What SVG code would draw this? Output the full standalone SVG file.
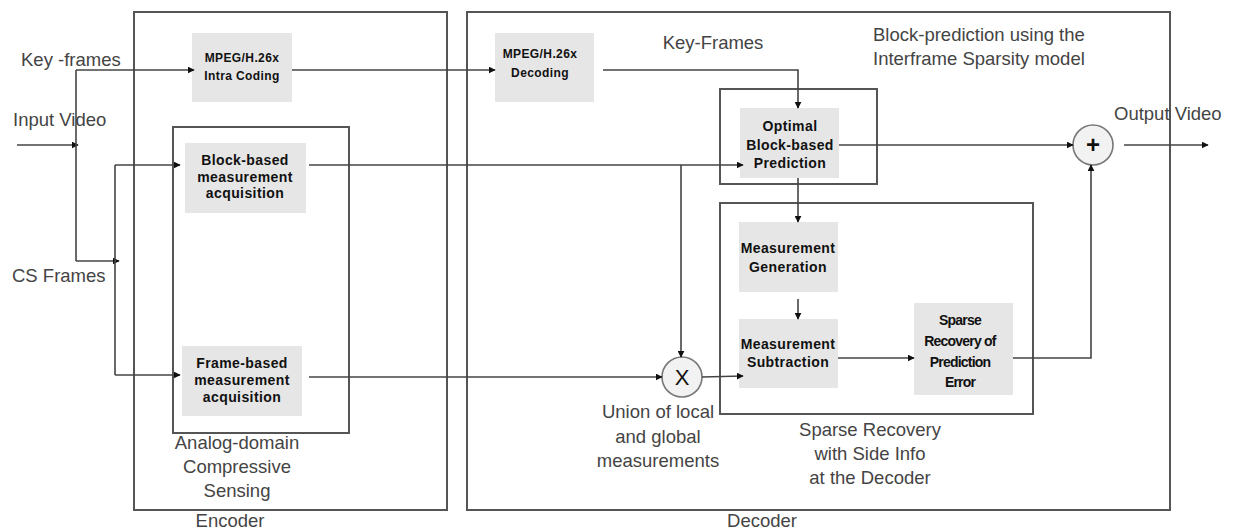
<svg xmlns="http://www.w3.org/2000/svg" width="1235" height="529" viewBox="0 0 1235 529">
<defs>
<marker id="ah" viewBox="0 0 10 10" refX="9" refY="5" markerWidth="7" markerHeight="7" markerUnits="userSpaceOnUse" orient="auto"><path d="M0,0 L10,5 L0,10 z" fill="#111"/></marker>
<style>
.frame{fill:none;stroke:#555;stroke-width:2}
.box{fill:#e6e6e6;stroke:none}
.bl{font-family:"Liberation Sans",Arial,sans-serif;font-weight:bold;font-size:14px;fill:#111;text-anchor:middle;letter-spacing:0.4px}
.bl2{font-family:"Liberation Sans",Arial,sans-serif;font-weight:bold;font-size:14px;fill:#111;text-anchor:middle;letter-spacing:-0.8px}
.lab{font-family:"Liberation Sans",Arial,sans-serif;font-size:18.5px;fill:#444}
.mid{text-anchor:middle}
.c{fill:none;stroke:#444;stroke-width:1.6}
.ca{fill:none;stroke:#444;stroke-width:1.6;marker-end:url(#ah)}
.circ{fill:#f2f2f2;stroke:#777;stroke-width:1.6}
</style>
</defs>
<rect width="1235" height="529" fill="#fff"/>
<g id="encoder">
<rect class="frame" x="134" y="12" width="313" height="498"/>
<text class="lab mid" x="230" y="527">Encoder</text>
</g>
<g id="analog-cs">
<rect class="frame" x="173" y="127" width="176" height="306"/>
<text class="lab mid" x="237" y="449">Analog-domain</text>
<text class="lab mid" x="237" y="473">Compressive</text>
<text class="lab mid" x="237" y="497">Sensing</text>
</g>
<g id="decoder">
<rect class="frame" x="467" y="12" width="703" height="498"/>
<text class="lab mid" x="762" y="527">Decoder</text>
</g>
<g id="block-prediction">
<rect class="frame" x="720" y="89" width="157" height="95"/>
<text class="lab" x="873" y="41">Block-prediction using the</text>
<text class="lab" x="873" y="65">Interframe Sparsity model</text>
</g>
<g id="sparse-side-info">
<rect class="frame" x="720" y="203" width="313" height="211"/>
<text class="lab mid" x="870" y="436">Sparse Recovery</text>
<text class="lab mid" x="870" y="460">with Side Info</text>
<text class="lab mid" x="870" y="484">at the Decoder</text>
</g>
<g id="intra-coding">
<rect class="box" x="192" y="33" width="100" height="69"/>
<text class="bl" x="242" y="62" style="font-size:12px">MPEG/H.26x</text>
<text class="bl" x="242" y="80" style="font-size:12px">Intra Coding</text>
</g>
<g id="block-acq">
<rect class="box" x="185" y="143" width="121" height="70"/>
<text class="bl" x="245" y="165">Block-based</text>
<text class="bl" x="245" y="182">measurement</text>
<text class="bl" x="245" y="198">acquisition</text>
</g>
<g id="frame-acq">
<rect class="box" x="182" y="346" width="120" height="70"/>
<text class="bl" x="242" y="368">Frame-based</text>
<text class="bl" x="242" y="385">measurement</text>
<text class="bl" x="242" y="402">acquisition</text>
</g>
<g id="decoding">
<rect class="box" x="495" y="33" width="99" height="69"/>
<text class="bl" x="540" y="58" style="font-size:12px">MPEG/H.26x</text>
<text class="bl" x="540" y="77" style="font-size:12px">Decoding</text>
</g>
<g id="optimal-pred">
<rect class="box" x="740" y="108" width="99" height="70"/>
<text class="bl" x="790" y="131">Optimal</text>
<text class="bl" x="790" y="150">Block-based</text>
<text class="bl" x="790" y="168">Prediction</text>
</g>
<g id="meas-gen">
<rect class="box" x="739" y="222" width="99" height="70"/>
<text class="bl" x="788" y="253">Measurement</text>
<text class="bl" x="788" y="272">Generation</text>
</g>
<g id="meas-sub">
<rect class="box" x="739" y="319" width="99" height="69"/>
<text class="bl" x="788" y="349">Measurement</text>
<text class="bl" x="788" y="367">Subtraction</text>
</g>
<g id="sparse-rec">
<rect class="box" x="914" y="303" width="99" height="92"/>
<text class="bl2" x="960" y="325">Sparse</text>
<text class="bl2" x="960" y="346">Recovery of</text>
<text class="bl2" x="960" y="367">Prediction</text>
<text class="bl2" x="960" y="387">Error</text>
</g>
<g id="union">
<circle class="circ" cx="682" cy="377" r="20"/>
<text x="682" y="385" style="font-family:'Liberation Sans',Arial,sans-serif;font-size:22px;fill:#111;text-anchor:middle">X</text>
<text class="lab mid" x="658" y="418">Union of local</text>
<text class="lab mid" x="658" y="443">and global</text>
<text class="lab mid" x="658" y="467">measurements</text>
</g>
<g id="sum">
<circle class="circ" cx="1093" cy="145" r="20"/>
<text x="1093" y="153" style="font-family:'Liberation Sans',Arial,sans-serif;font-size:24px;font-weight:bold;fill:#111;text-anchor:middle">+</text>
</g>
<g id="labels">
<text class="lab" x="21" y="66">Key -frames</text>
<text class="lab" x="13" y="126">Input Video</text>
<text class="lab" x="12" y="282">CS Frames</text>
<text class="lab mid" x="713" y="49">Key-Frames</text>
<text class="lab" x="1114" y="120">Output Video</text>
</g>
<g id="connectors">
<path class="ca" d="M17,145 H78"/>
<path class="c" d="M76,70 V261"/>
<path class="ca" d="M76,70 H194"/>
<path class="ca" d="M76,261 H119"/>
<path class="c" d="M115,165 V375"/>
<path class="ca" d="M115,165 H180"/>
<path class="ca" d="M115,375 H180"/>
<path class="ca" d="M292,70 H495"/>
<path class="ca" d="M603,70 H798 V108"/>
<path class="ca" d="M309,165 H743"/>
<path class="ca" d="M681,165 V357"/>
<path class="ca" d="M309,377 H662"/>
<path class="ca" d="M702,377 L743,376"/>
<path class="ca" d="M839,145 H1073"/>
<path class="ca" d="M798,178 V222"/>
<path class="ca" d="M798,299 V319"/>
<path class="ca" d="M838,358 H914"/>
<path class="ca" d="M1013,358 H1091 V165"/>
<path class="ca" d="M1124,145 H1208"/>
</g>
</svg>
